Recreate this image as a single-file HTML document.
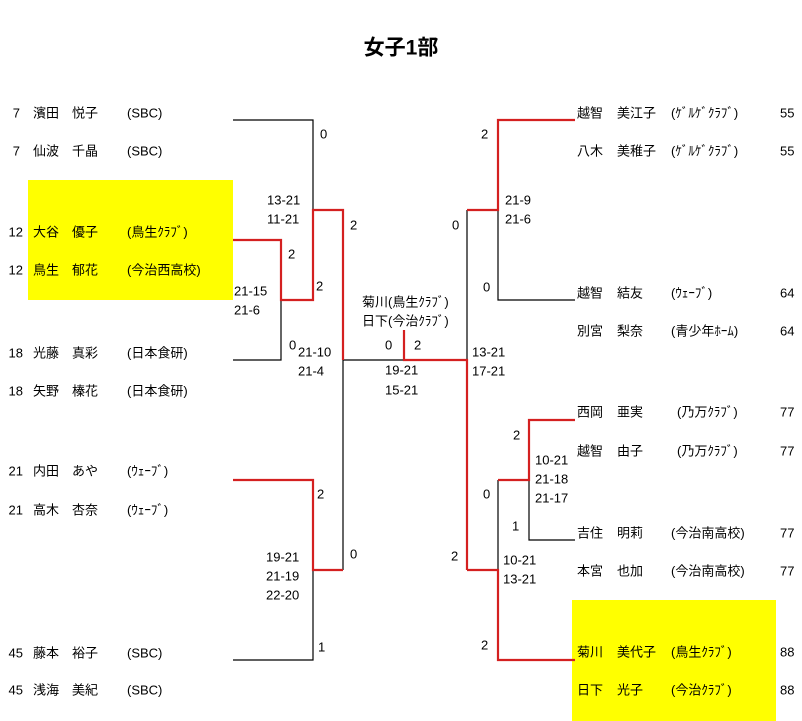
<!DOCTYPE html>
<html><head><meta charset="utf-8"><style>
html,body{margin:0;padding:0;background:#fff;width:802px;height:721px;overflow:hidden}
svg text{font-family:"Liberation Sans","Noto Sans CJK JP",sans-serif;font-size:13px;fill:#000;dominant-baseline:central}
</style></head><body>
<svg width="802" height="721" viewBox="0 0 802 721" xmlns="http://www.w3.org/2000/svg">
<rect x="28" y="180" width="205" height="120" fill="#ffff00"/>
<rect x="572" y="600" width="204" height="121" fill="#ffff00"/>
<text x="401" y="48" text-anchor="middle" style="font-size:21px;font-weight:bold">女子1部</text>
<g fill="none" stroke="#000" stroke-width="1.2">
<polyline points="233,120 313,120 313,210"/>
<polyline points="281,300 281,360 233,360"/>
<polyline points="343,360 404,360"/>
<polyline points="343,360 343,570"/>
<polyline points="313,570 313,660 233,660"/>
<polyline points="498,210 498,300 575,300"/>
<polyline points="467,210 467,360"/>
<polyline points="498,480 498,570"/>
<polyline points="529,480 529,540 575,540"/>
</g>
<g fill="none" stroke="#d42020" stroke-width="2.2">
<polyline points="233,240 281,240 281,300 313,300 313,210 343,210 343,360"/>
<polyline points="404,330 404,360 467,360 467,570"/>
<polyline points="233,480 313,480 313,570 343,570"/>
<polyline points="575,120 498,120 498,210 467,210"/>
<polyline points="467,570 498,570 498,660 575,660"/>
<polyline points="498,480 529,480 529,420 575,420"/>
</g>
<g>
<text x="20" y="113" text-anchor="end">7</text><text x="33" y="113">濱田</text><text x="72" y="113">悦子</text><text x="127" y="113">(SBC)</text>
<text x="20" y="151" text-anchor="end">7</text><text x="33" y="151">仙波</text><text x="72" y="151">千晶</text><text x="127" y="151">(SBC)</text>
<text x="23" y="232" text-anchor="end">12</text><text x="33" y="232">大谷</text><text x="72" y="232">優子</text><text x="127" y="232">(鳥生ｸﾗﾌﾞ)</text>
<text x="23" y="270" text-anchor="end">12</text><text x="33" y="270">鳥生</text><text x="72" y="270">郁花</text><text x="127" y="270">(今治西高校)</text>
<text x="23" y="353" text-anchor="end">18</text><text x="33" y="353">光藤</text><text x="72" y="353">真彩</text><text x="127" y="353">(日本食研)</text>
<text x="23" y="391" text-anchor="end">18</text><text x="33" y="391">矢野</text><text x="72" y="391">榛花</text><text x="127" y="391">(日本食研)</text>
<text x="23" y="471" text-anchor="end">21</text><text x="33" y="471">内田</text><text x="72" y="471">あや</text><text x="127" y="471">(ｳｪｰﾌﾞ)</text>
<text x="23" y="510" text-anchor="end">21</text><text x="33" y="510">高木</text><text x="72" y="510">杏奈</text><text x="127" y="510">(ｳｪｰﾌﾞ)</text>
<text x="23" y="653" text-anchor="end">45</text><text x="33" y="653">藤本</text><text x="72" y="653">裕子</text><text x="127" y="653">(SBC)</text>
<text x="23" y="690" text-anchor="end">45</text><text x="33" y="690">浅海</text><text x="72" y="690">美紀</text><text x="127" y="690">(SBC)</text>

<text x="577" y="113">越智</text><text x="617" y="113">美江子</text><text x="671" y="113">(ｹﾞﾙｹﾞｸﾗﾌﾞ)</text><text x="780" y="113">55</text>
<text x="577" y="151">八木</text><text x="617" y="151">美稚子</text><text x="671" y="151">(ｹﾞﾙｹﾞｸﾗﾌﾞ)</text><text x="780" y="151">55</text>
<text x="577" y="293">越智</text><text x="617" y="293">結友</text><text x="671" y="293">(ｳｪｰﾌﾞ)</text><text x="780" y="293">64</text>
<text x="577" y="331">別宮</text><text x="617" y="331">梨奈</text><text x="671" y="331">(青少年ﾎｰﾑ)</text><text x="780" y="331">64</text>
<text x="577" y="412">西岡</text><text x="617" y="412">亜実</text><text x="677" y="412">(乃万ｸﾗﾌﾞ)</text><text x="780" y="412">77</text>
<text x="577" y="451">越智</text><text x="617" y="451">由子</text><text x="677" y="451">(乃万ｸﾗﾌﾞ)</text><text x="780" y="451">77</text>
<text x="577" y="533">吉住</text><text x="617" y="533">明莉</text><text x="671" y="533">(今治南高校)</text><text x="780" y="533">77</text>
<text x="577" y="571">本宮</text><text x="617" y="571">也加</text><text x="671" y="571">(今治南高校)</text><text x="780" y="571">77</text>
<text x="577" y="652">菊川</text><text x="617" y="652">美代子</text><text x="671" y="652">(鳥生ｸﾗﾌﾞ)</text><text x="780" y="652">88</text>
<text x="577" y="690">日下</text><text x="617" y="690">光子</text><text x="671" y="690">(今治ｸﾗﾌﾞ)</text><text x="780" y="690">88</text>

<text x="320" y="134">0</text><text x="267" y="200">13-21</text><text x="267" y="219">11-21</text>
<text x="350" y="225">2</text><text x="288" y="254">2</text><text x="316" y="286">2</text>
<text x="234" y="291">21-15</text><text x="234" y="310">21-6</text>
<text x="289" y="345">0</text><text x="298" y="352">21-10</text><text x="298" y="371">21-4</text>
<text x="362" y="302">菊川(鳥生ｸﾗﾌﾞ)</text><text x="362" y="321">日下(今治ｸﾗﾌﾞ)</text>
<text x="385" y="345">0</text><text x="414" y="345">2</text>
<text x="385" y="370">19-21</text><text x="385" y="390">15-21</text>
<text x="317" y="494">2</text><text x="266" y="557">19-21</text><text x="266" y="576">21-19</text><text x="266" y="595">22-20</text>
<text x="350" y="554">0</text><text x="318" y="647">1</text>
<text x="481" y="134">2</text><text x="452" y="225">0</text>
<text x="505" y="200">21-9</text><text x="505" y="219">21-6</text>
<text x="483" y="287">0</text><text x="472" y="352">13-21</text><text x="472" y="371">17-21</text>
<text x="513" y="435">2</text><text x="483" y="494">0</text>
<text x="535" y="460">10-21</text><text x="535" y="479">21-18</text><text x="535" y="498">21-17</text>
<text x="512" y="526">1</text><text x="451" y="556">2</text>
<text x="503" y="560">10-21</text><text x="503" y="579">13-21</text>
<text x="481" y="645">2</text>
</g>
</svg>
</body></html>
